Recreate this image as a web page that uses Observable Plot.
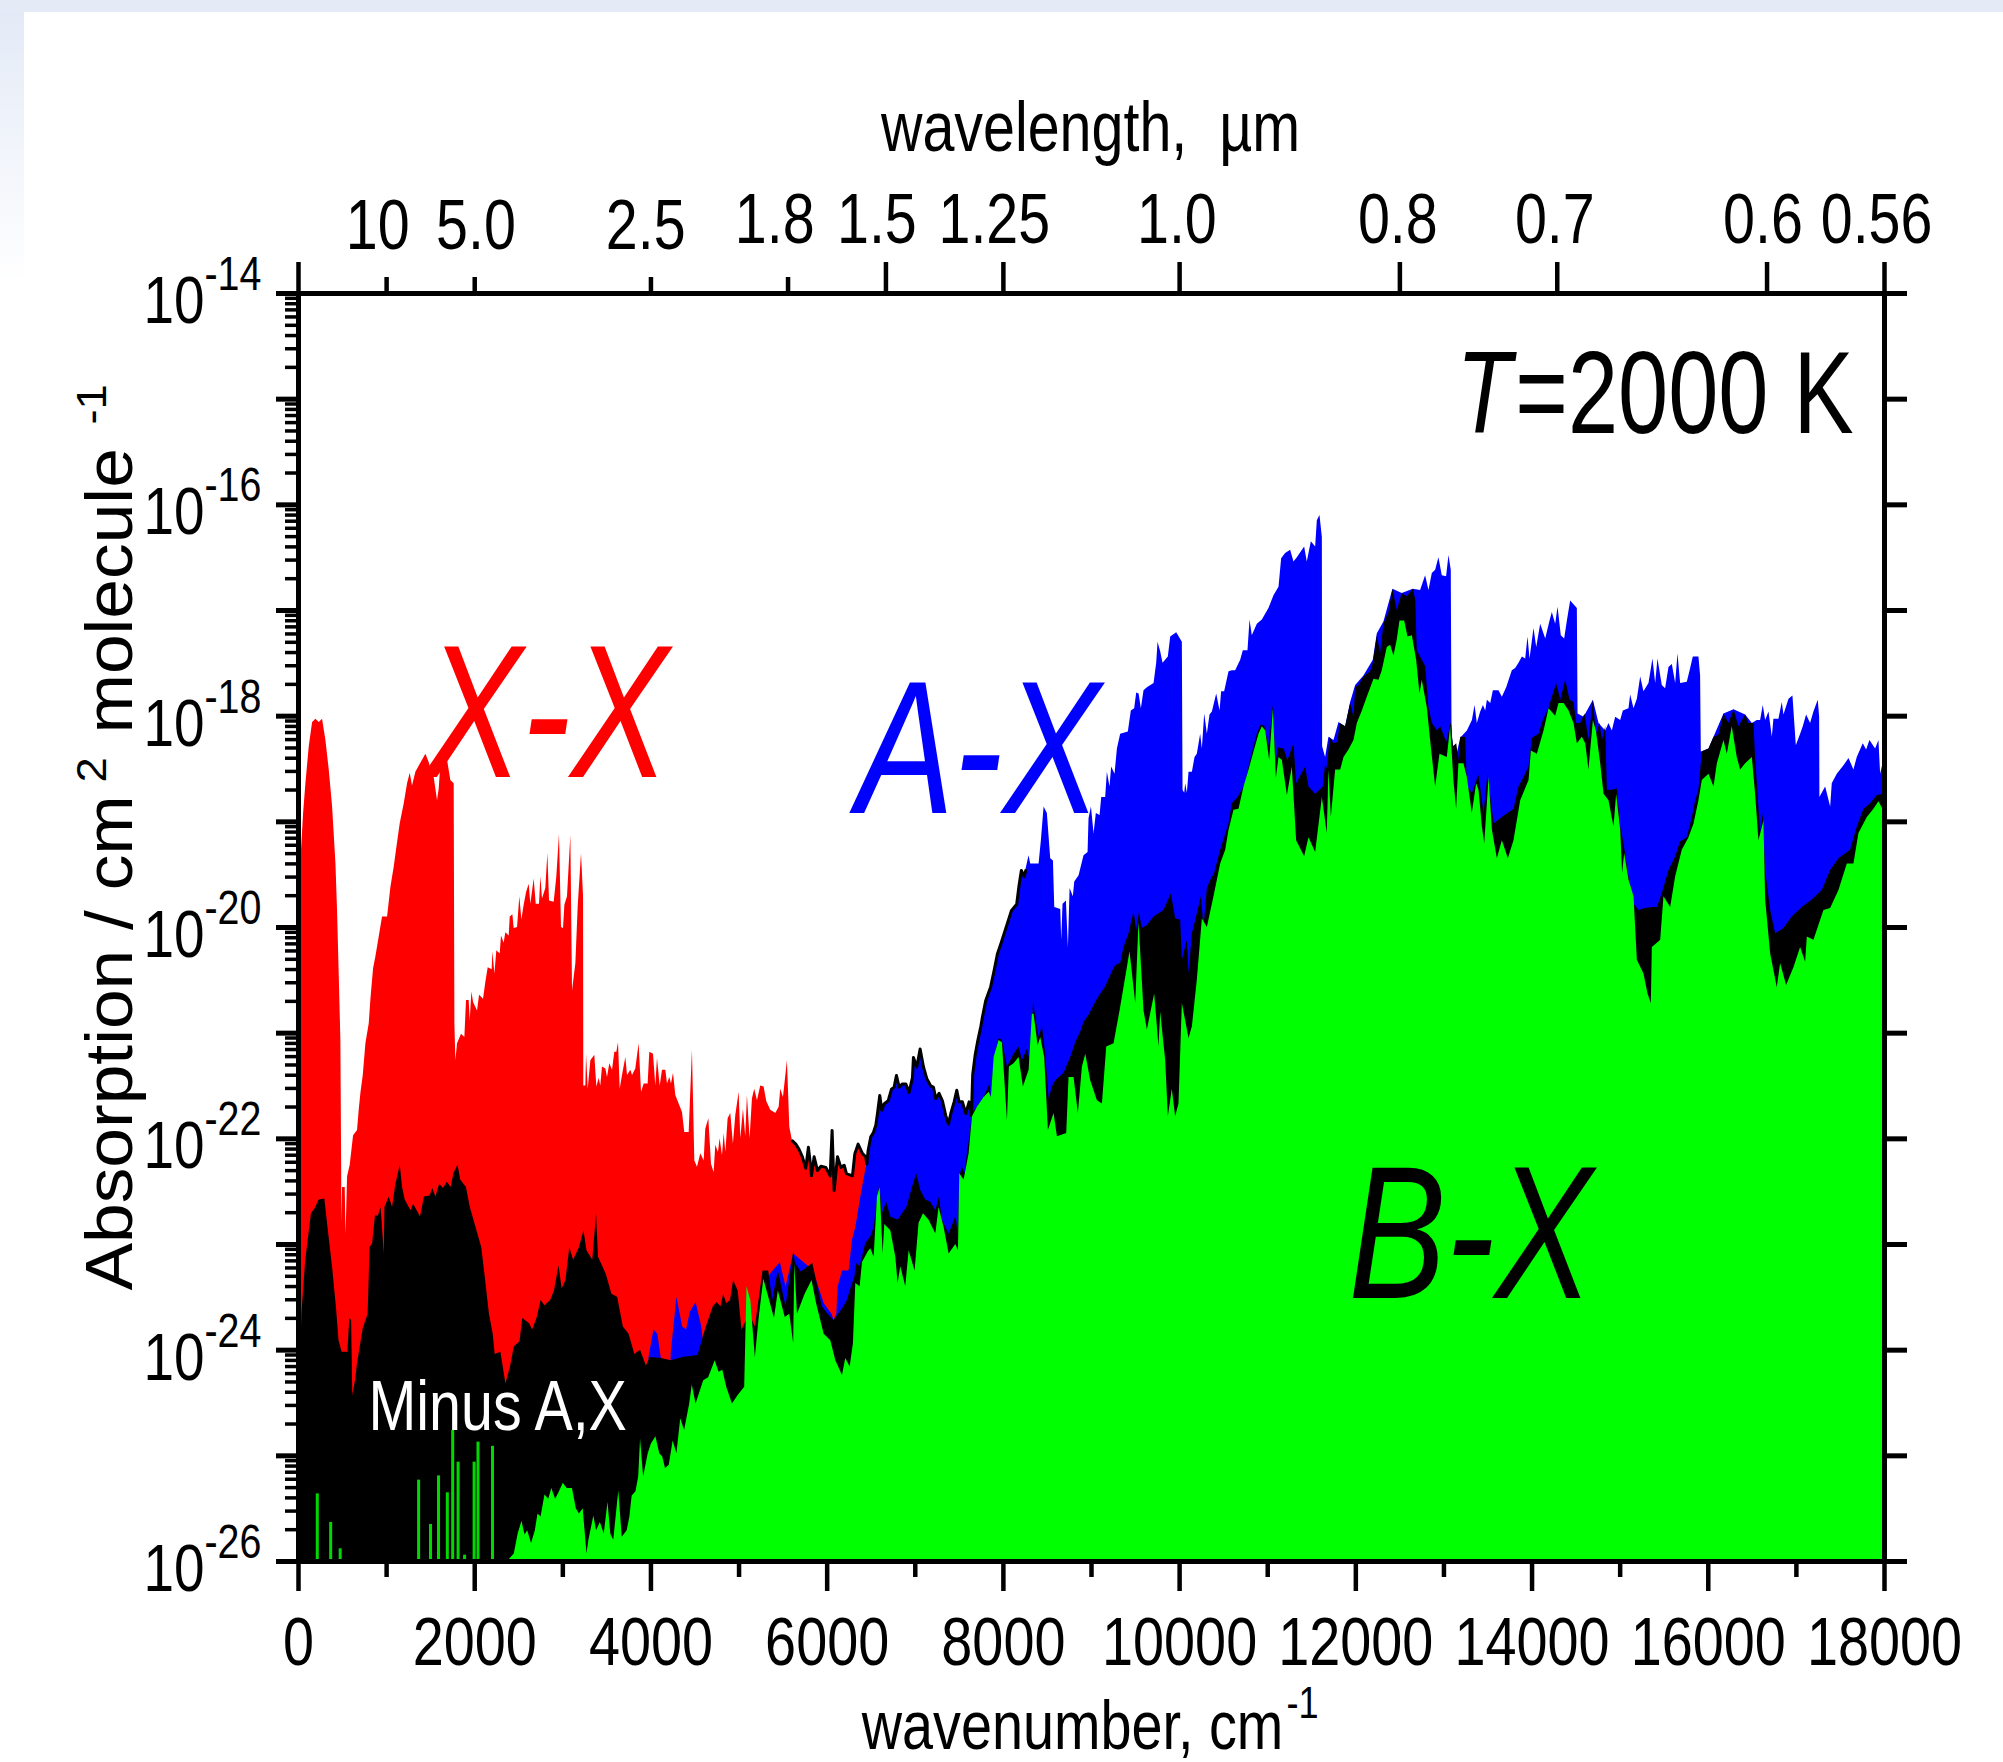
<!DOCTYPE html>
<html>
<head>
<meta charset="utf-8">
<script src="https://cdn.jsdelivr.net/npm/d3@7"></script>
<script src="https://cdn.jsdelivr.net/npm/@observablehq/plot@0.6"></script>
<style>
html,body{margin:0;padding:0;background:#fff;overflow:hidden}
body{width:2003px;height:1762px;
background:
 linear-gradient(#e4ebf6,#e4ebf6) 0 0/100% 12px no-repeat,
 linear-gradient(#e2e9f6,#ffffff) 0 0/24px 285px no-repeat,#fff}
svg{display:block}
</style>
</head>
<body>
<div id="chart"></div>
<script>
// every pair is [wavenumber in cm-1, log10 of absorption]
const redBand = [[0,-26],[20,-19.74],[27,-19.37],[58,-18.92],[84,-18.64],[122,-18.29],[160,-18.06],[198,-18.03],[236,-18.06],[273,-18.03],[311,-18.23],[349,-18.51],[387,-18.86],[425,-19.4],[443,-19.84],[462,-20.44],[481,-21.07],[489,-22.17],[493,-22.79],[500,-22.46],[530,-22.46],[540,-22.9],[557,-22.36],[587,-22.25],[625,-21.97],[670,-21.92],[689,-21.73],[708,-21.57],[735,-21.4],[765,-21.1],[803,-20.91],[822,-20.68],[852,-20.39],[878,-20.28],[916,-20.09],[954,-19.9],[1011,-19.9],[1049,-19.62],[1086,-19.43],[1117,-19.24],[1154,-19.02],[1200,-18.83],[1238,-18.64],[1268,-18.54],[1294,-18.66],[1332,-18.53],[1446,-18.36],[1484,-18.44],[1521,-18.56],[1540,-18.58],[1578,-18.8],[1597,-18.69],[1616,-18.45],[1692,-18.42],[1729,-18.61],[1767,-18.64],[1775,-20.91],[1786,-21.26],[1805,-21.1],[1850,-21.01],[1888,-21.04],[1907,-20.69],[1937,-20.69],[1949,-20.88],[1968,-20.61],[1987,-20.71],[2032,-20.79],[2055,-20.64],[2100,-20.68],[2126,-20.52],[2153,-20.38],[2198,-20.4],[2206,-20.23],[2229,-20.44],[2251,-20.22],[2289,-20.25],[2304,-20.08],[2334,-20.15],[2353,-20.05],[2391,-20.08],[2403,-19.9],[2433,-19.88],[2448,-20.01],[2486,-20],[2512,-19.71],[2535,-19.93],[2561,-19.79],[2588,-19.67],[2618,-19.59],[2637,-19.78],[2675,-19.54],[2698,-19.78],[2735,-19.78],[2751,-19.52],[2769,-19.73],[2807,-19.63],[2830,-19.3],[2849,-19.75],[2902,-19.76],[2932,-19.52],[2962,-19.12],[2985,-20],[3008,-20.01],[3023,-19.79],[3053,-19.71],[3091,-19.13],[3110,-20.6],[3148,-20.34],[3174,-19.81],[3212,-19.3],[3235,-19.71],[3238,-21.5],[3261,-21.5],[3269,-21.2],[3288,-21.53],[3318,-21.26],[3363,-21.21],[3386,-21.51],[3412,-21.43],[3431,-21.5],[3450,-21.32],[3488,-21.34],[3507,-21.42],[3533,-21.29],[3564,-21.35],[3590,-21.18],[3613,-21.18],[3632,-21.09],[3651,-21.53],[3677,-21.4],[3715,-21.23],[3734,-21.4],[3772,-21.35],[3791,-21.4],[3828,-21.34],[3866,-21.1],[3893,-21.56],[3923,-21.48],[3968,-21.48],[3987,-21.18],[4029,-21.2],[4055,-21.5],[4074,-21.24],[4105,-21.5],[4131,-21.35],[4169,-21.35],[4188,-21.48],[4214,-21.42],[4233,-21.48],[4256,-21.38],[4282,-21.59],[4320,-21.67],[4358,-21.75],[4384,-21.94],[4434,-21.94],[4471,-21.16],[4498,-22.21],[4528,-22.27],[4566,-22.14],[4604,-22.21],[4622,-21.91],[4657,-21.81],[4687,-22.24],[4717,-22.32],[4736,-22.06],[4766,-22.13],[4785,-22],[4812,-22.16],[4831,-21.95],[4850,-22.13],[4876,-21.81],[4906,-21.76],[4936,-22.05],[4963,-21.78],[5001,-21.56],[5020,-22],[5050,-21.72],[5076,-21.98],[5095,-21.59],[5125,-22],[5152,-21.62],[5178,-21.53],[5209,-21.64],[5246,-21.5],[5284,-21.51],[5315,-21.65],[5360,-21.73],[5417,-21.76],[5455,-21.7],[5473,-21.53],[5504,-21.61],[5549,-21.26],[5576,-21.89],[5606,-22.02],[5644,-22.05],[5681,-22.1],[5719,-22.17],[5757,-22.28],[5787,-22.08],[5814,-22.27],[5822,-22.35],[5852,-22.17],[5890,-22.3],[5928,-22.26],[5985,-22.27],[6034,-22.35],[6056,-21.92],[6079,-22.49],[6117,-22.17],[6155,-22.27],[6193,-22.25],[6219,-22.33],[6287,-22.35],[6314,-22.14],[6351,-22.05],[6401,-22.14],[6438,-22.17],[6450,-22.33],[6460,-26]];

const blueBand = [[3970,-26],[3978,-24.07],[4034,-23.81],[4078,-23.85],[4121,-24.1],[4143,-24.6],[4215,-24.6],[4230,-24.03],[4295,-23.5],[4360,-23.78],[4404,-23.81],[4447,-23.64],[4512,-23.55],[4577,-23.78],[4599,-23.94],[4620,-24.6],[5200,-24.6],[5294,-23.4],[5359,-23.28],[5468,-23.17],[5533,-23.4],[5620,-23.09],[5793,-23.21],[5880,-23.34],[5967,-23.56],[6054,-23.66],[6079,-23.72],[6109,-23.66],[6125,-23.4],[6174,-23.25],[6249,-23.25],[6287,-22.96],[6325,-22.84],[6382,-22.55],[6450,-22.24],[6465,-22.11],[6495,-21.98],[6525,-21.94],[6552,-21.87],[6571,-21.76],[6597,-21.59],[6620,-21.73],[6646,-21.67],[6692,-21.64],[6730,-21.53],[6760,-21.51],[6786,-21.4],[6817,-21.51],[6854,-21.48],[6892,-21.48],[6930,-21.56],[6968,-21.42],[6979,-21.23],[7017,-21.32],[7055,-21.15],[7093,-21.32],[7131,-21.43],[7176,-21.5],[7206,-21.51],[7233,-21.62],[7270,-21.57],[7308,-21.64],[7346,-21.78],[7376,-21.86],[7403,-21.76],[7441,-21.65],[7471,-21.54],[7497,-21.65],[7535,-21.65],[7573,-21.76],[7611,-21.65],[7637,-21.78],[7652,-21.39],[7679,-21.21],[7705,-21.09],[7743,-20.94],[7762,-20.85],[7800,-20.69],[7856,-20.56],[7894,-20.41],[7932,-20.25],[7977,-20.14],[8038,-19.98],[8091,-19.84],[8151,-19.78],[8178,-19.6],[8204,-19.46],[8235,-19.52],[8254,-19.46],[8291,-19.32],[8310,-19.4],[8405,-19.4],[8431,-19.18],[8462,-18.86],[8499,-18.92],[8537,-19.35],[8568,-19.37],[8583,-19.81],[8651,-19.83],[8662,-20.12],[8677,-19.78],[8715,-19.75],[8738,-20.19],[8757,-19.63],[8794,-19.71],[8810,-19.57],[8859,-19.51],[8915,-19.32],[8961,-19.29],[8972,-18.97],[8999,-18.86],[9029,-19.11],[9055,-18.92],[9097,-18.94],[9116,-18.77],[9161,-18.77],[9180,-18.53],[9210,-18.67],[9229,-18.48],[9267,-18.55],[9294,-18.31],[9331,-18.17],[9418,-18.15],[9452,-17.95],[9490,-17.93],[9513,-17.78],[9540,-17.79],[9566,-17.93],[9596,-17.76],[9634,-17.73],[9710,-17.69],[9740,-17.5],[9755,-17.3],[9785,-17.39],[9812,-17.5],[9872,-17.44],[9899,-17.25],[9967,-17.21],[10031,-17.3],[10039,-18.7],[10058,-18.73],[10069,-18.64],[10088,-18.73],[10107,-18.53],[10145,-18.53],[10175,-18.39],[10201,-18.36],[10239,-18.17],[10258,-18.31],[10285,-17.98],[10315,-18.17],[10345,-17.99],[10372,-17.96],[10421,-17.79],[10459,-17.95],[10477,-17.77],[10511,-17.77],[10561,-17.58],[10598,-17.57],[10636,-17.57],[10693,-17.47],[10723,-17.38],[10776,-17.38],[10799,-17.09],[10825,-17.24],[10882,-17.13],[10939,-17.09],[11014,-16.98],[11071,-16.86],[11128,-16.78],[11158,-16.51],[11203,-16.46],[11260,-16.43],[11298,-16.54],[11336,-16.5],[11419,-16.4],[11449,-16.54],[11495,-16.35],[11544,-16.4],[11563,-16.15],[11593,-16.1],[11620,-16.31],[11623,-18.29],[11657,-18.39],[11695,-18.2],[11752,-18.23],[11809,-18.06],[11884,-18.1],[11941,-17.87],[11998,-17.71],[12092,-17.62],[12198,-17.47],[12244,-17.22],[12319,-17.11],[12421,-16.8],[12527,-16.84],[12652,-16.8],[12735,-16.81],[12792,-16.67],[12830,-16.81],[12868,-16.65],[12906,-16.62],[12943,-16.5],[12981,-16.67],[13030,-16.68],[13057,-16.48],[13083,-16.62],[13091,-18.04],[13096,-18.2],[13134,-18.42],[13190,-18.21],[13266,-18.14],[13323,-18.04],[13353,-17.9],[13379,-18.07],[13417,-17.96],[13448,-17.9],[13474,-17.95],[13493,-17.85],[13531,-17.88],[13561,-17.76],[13625,-17.76],[13663,-17.82],[13712,-17.73],[13776,-17.57],[13814,-17.55],[13852,-17.5],[13890,-17.44],[13928,-17.46],[13954,-17.25],[13977,-17.46],[14022,-17.17],[14053,-17.35],[14098,-17.13],[14155,-17.27],[14204,-17.1],[14230,-17.02],[14268,-17.13],[14295,-16.97],[14332,-17.24],[14370,-17.27],[14401,-17.1],[14438,-16.91],[14514,-16.98],[14522,-17.98],[14590,-18.01],[14696,-17.85],[14760,-18.07],[14836,-18.14],[14873,-18.07],[14911,-18.14],[14949,-18.01],[15006,-18.04],[15036,-17.95],[15100,-17.93],[15119,-17.8],[15157,-17.93],[15195,-17.84],[15233,-17.63],[15270,-17.77],[15327,-17.69],[15372,-17.46],[15403,-17.69],[15429,-17.46],[15478,-17.71],[15516,-17.74],[15554,-17.54],[15592,-17.51],[15630,-17.69],[15656,-17.41],[15686,-17.69],[15762,-17.68],[15800,-17.55],[15830,-17.44],[15894,-17.44],[15913,-17.62],[15921,-18.34],[16008,-18.31],[16178,-17.98],[16292,-17.94],[16424,-17.99],[16500,-18.07],[16556,-18.04],[16594,-18.04],[16624,-17.9],[16651,-18.04],[16689,-17.96],[16727,-18.2],[16745,-18.03],[16802,-18.03],[16840,-17.87],[16859,-17.99],[16916,-17.84],[16961,-17.81],[16999,-18.28],[17048,-18.17],[17078,-18.1],[17116,-17.99],[17161,-18.07],[17199,-17.96],[17248,-17.85],[17264,-18.01],[17267,-18.77],[17332,-18.67],[17389,-18.86],[17407,-18.64],[17464,-18.55],[17540,-18.47],[17597,-18.4],[17653,-18.51],[17691,-18.39],[17759,-18.26],[17797,-18.32],[17835,-18.23],[17899,-18.31],[17937,-18.23],[17956,-18.55],[18000,-18.39]];

const blackBand = [[0,-26],[8,-24.5],[39,-23.66],[82,-23.15],[147,-22.71],[191,-22.66],[234,-22.58],[299,-22.57],[343,-22.9],[386,-23.21],[430,-23.59],[460,-23.91],[495,-24.02],[560,-24.02],[582,-23.7],[603,-23.72],[616,-24.43],[647,-24.29],[669,-24.13],[734,-23.8],[790,-23.66],[812,-23.03],[842,-22.99],[873,-22.73],[907,-22.73],[938,-22.65],[973,-23.09],[981,-22.65],[1029,-22.55],[1068,-22.65],[1103,-22.44],[1155,-22.25],[1181,-22.46],[1211,-22.58],[1277,-22.68],[1307,-22.62],[1385,-22.74],[1429,-22.55],[1494,-22.54],[1524,-22.47],[1559,-22.55],[1602,-22.43],[1646,-22.47],[1689,-22.41],[1733,-22.46],[1763,-22.33],[1811,-22.25],[1841,-22.39],[1906,-22.46],[1950,-22.65],[2015,-22.84],[2080,-23.03],[2124,-23.34],[2167,-23.66],[2210,-23.85],[2232,-24.04],[2297,-24.02],[2354,-24.32],[2406,-24.16],[2449,-23.97],[2514,-23.92],[2545,-23.7],[2623,-23.75],[2658,-23.81],[2710,-23.69],[2753,-23.53],[2797,-23.58],[2862,-23.53],[2905,-23.44],[2957,-23.2],[2992,-23.42],[3035,-23.34],[3079,-23.03],[3122,-23.15],[3188,-23.03],[3240,-22.87],[3274,-23.06],[3340,-23.15],[3383,-22.71],[3405,-23.12],[3492,-23.28],[3557,-23.47],[3622,-23.5],[3687,-23.78],[3752,-23.85],[3817,-24.04],[3882,-24],[3948,-24.15],[3991,-24.07],[4121,-24.08],[4230,-24.1],[4360,-24.07],[4534,-24.05],[4621,-23.8],[4708,-23.59],[4751,-23.55],[4795,-23.59],[4825,-23.47],[4860,-23.56],[4903,-23.53],[4938,-23.34],[4990,-23.44],[5033,-23.81],[5120,-23.66],[5185,-23.78],[5272,-23.25],[5337,-23.25],[5381,-23.53],[5446,-23.25],[5533,-23.59],[5620,-23.07],[5641,-23.18],[5706,-23.26],[5837,-23.18],[5880,-23.34],[5945,-23.59],[6010,-23.66],[6076,-23.72],[6174,-23.61],[6230,-23.53],[6276,-23.4],[6314,-23.31],[6336,-23.18],[6374,-23.21],[6401,-23.12],[6438,-22.99],[6495,-22.93],[6533,-22.84],[6597,-22.43],[6627,-22.71],[6677,-22.6],[6722,-22.74],[6805,-22.77],[6904,-22.65],[6979,-22.43],[7017,-22.33],[7062,-22.49],[7119,-22.58],[7176,-22.6],[7233,-22.68],[7274,-22.55],[7308,-22.77],[7384,-22.9],[7460,-22.74],[7490,-22.9],[7505,-22.36],[7535,-22.27],[7565,-22.33],[7592,-22.14],[7630,-21.92],[7649,-21.76],[7705,-21.7],[7781,-21.61],[7849,-21.48],[7864,-21.67],[7895,-21.26],[7951,-21.05],[7989,-21.07],[8046,-21.32],[8121,-21.2],[8178,-21.13],[8216,-21.26],[8273,-21.15],[8318,-21.32],[8341,-20.71],[8405,-21.04],[8443,-20.94],[8481,-21.21],[8519,-21.62],[8556,-21.51],[8594,-21.45],[8689,-21.38],[8764,-21.23],[8821,-21.09],[8878,-20.99],[8915,-20.9],[8972,-20.83],[9067,-20.68],[9161,-20.56],[9199,-20.49],[9237,-20.42],[9275,-20.36],[9331,-20.34],[9369,-20.19],[9426,-20.06],[9483,-19.85],[9513,-20.03],[9543,-19.86],[9577,-20.01],[9634,-19.98],[9710,-19.9],[9823,-19.84],[9906,-19.68],[9955,-19.92],[10012,-19.93],[10031,-20.31],[10088,-20.12],[10107,-20.44],[10145,-20.06],[10201,-19.87],[10247,-19.71],[10277,-20],[10315,-19.63],[10372,-19.52],[10390,-19.51],[10466,-19.27],[10561,-19.02],[10598,-18.83],[10655,-18.78],[10712,-18.7],[10750,-18.63],[10788,-18.48],[10825,-18.36],[10882,-18.17],[10920,-18.09],[10965,-18.09],[11014,-18.29],[11064,-17.9],[11094,-18.48],[11117,-18.3],[11185,-18.31],[11230,-18.42],[11298,-18.26],[11328,-18.64],[11430,-18.48],[11468,-18.67],[11544,-18.74],[11631,-18.67],[11657,-18.45],[11676,-18.5],[11707,-18.2],[11752,-18.26],[11797,-18.25],[11820,-18.07],[11884,-18.1],[11941,-17.88],[11979,-18.01],[11998,-17.73],[12036,-17.71],[12092,-17.63],[12168,-17.58],[12198,-17.5],[12244,-17.24],[12281,-17.41],[12319,-17.13],[12376,-17.02],[12421,-16.8],[12470,-17],[12527,-16.84],[12584,-16.87],[12652,-16.8],[12680,-16.9],[12697,-17.38],[12792,-17.53],[12830,-17.92],[12868,-18.07],[12926,-18.14],[12963,-18.1],[13032,-18.25],[13084,-18.06],[13107,-18.29],[13145,-18.26],[13171,-18.42],[13190,-18.2],[13247,-18.2],[13266,-18.67],[13323,-18.73],[13398,-18.56],[13455,-18.92],[13500,-18.55],[13569,-19.02],[13663,-18.96],[13727,-18.92],[13795,-18.88],[13852,-18.67],[13909,-18.58],[13966,-18.48],[14004,-18.21],[14079,-18.17],[14128,-18.04],[14193,-17.93],[14219,-17.85],[14280,-17.69],[14325,-17.85],[14382,-17.66],[14431,-17.85],[14476,-17.87],[14507,-18.07],[14552,-18.07],[14601,-17.98],[14646,-18.23],[14696,-17.85],[14730,-18.17],[14771,-18.07],[14798,-18.23],[14836,-18.1],[14855,-18.7],[14911,-18.7],[14968,-18.69],[15006,-19.05],[15044,-19.21],[15100,-19.52],[15157,-19.78],[15214,-19.84],[15289,-19.82],[15365,-19.81],[15422,-19.81],[15478,-19.68],[15554,-19.46],[15630,-19.33],[15686,-19.19],[15762,-19.15],[15819,-18.96],[15857,-18.8],[15894,-18.7],[15932,-18.34],[16008,-18.31],[16065,-18.2],[16121,-18.18],[16178,-17.98],[16235,-18.07],[16292,-17.94],[16348,-18.1],[16424,-17.99],[16462,-18.07],[16518,-18.07],[16537,-18.39],[16594,-19.11],[16624,-18.92],[16651,-19.46],[16708,-19.84],[16764,-20.06],[16859,-20.01],[16953,-19.9],[17067,-19.81],[17180,-19.74],[17294,-19.65],[17389,-19.46],[17483,-19.35],[17615,-19.27],[17691,-19.05],[17767,-18.88],[17842,-18.83],[17918,-18.75],[18000,-18.74]];

const greenBand = [[2385,-26],[2393,-25.98],[2449,-25.93],[2493,-25.74],[2536,-25.62],[2571,-25.75],[2601,-25.71],[2645,-25.83],[2688,-25.71],[2718,-25.55],[2753,-25.58],[2797,-25.37],[2840,-25.41],[2875,-25.31],[2918,-25.41],[2962,-25.34],[3005,-25.26],[3049,-25.31],[3109,-25.31],[3153,-25.5],[3188,-25.55],[3231,-25.5],[3274,-25.93],[3296,-25.8],[3352,-25.57],[3383,-25.71],[3426,-25.63],[3470,-25.74],[3513,-25.44],[3544,-25.74],[3578,-25.8],[3635,-25.33],[3674,-25.77],[3730,-25.71],[3761,-25.58],[3787,-25.38],[3830,-25.34],[3861,-25.2],[3882,-24.84],[3917,-25.2],[3969,-24.98],[4004,-24.89],[4056,-24.82],[4100,-24.98],[4134,-25.01],[4165,-25.12],[4208,-25.09],[4252,-24.86],[4295,-24.98],[4338,-24.65],[4382,-24.76],[4438,-24.52],[4469,-24.33],[4512,-24.51],[4599,-24.29],[4655,-24.26],[4729,-24.1],[4773,-24.21],[4816,-24.19],[4860,-24.35],[4925,-24.51],[4990,-24.43],[5064,-24.35],[5090,-23.4],[5133,-23.53],[5185,-24.07],[5229,-23.69],[5281,-23.33],[5337,-23.5],[5402,-23.7],[5446,-23.44],[5524,-23.69],[5576,-23.66],[5620,-23.94],[5633,-23.18],[5663,-23.66],[5750,-23.47],[5828,-23.34],[5880,-23.56],[5966,-23.85],[6041,-23.91],[6098,-24.1],[6174,-24.24],[6211,-24.08],[6261,-24.16],[6298,-23.94],[6325,-23.37],[6374,-23.4],[6401,-23.17],[6465,-23.07],[6495,-23.04],[6533,-23.12],[6571,-22.55],[6601,-22.46],[6635,-23.09],[6654,-22.81],[6722,-22.87],[6779,-23.12],[6805,-23.37],[6835,-23.21],[6892,-23.4],[6930,-23.06],[6998,-23.25],[7043,-22.8],[7093,-22.71],[7157,-22.77],[7233,-22.9],[7270,-22.65],[7327,-22.84],[7384,-23.09],[7460,-23],[7490,-23.06],[7505,-22.33],[7554,-22.39],[7611,-22.14],[7649,-21.79],[7705,-21.7],[7781,-21.61],[7838,-21.56],[7864,-21.61],[7895,-21.23],[7951,-21.07],[7989,-21.09],[8046,-21.83],[8068,-21.32],[8121,-21.29],[8178,-21.23],[8227,-21.51],[8292,-21.35],[8329,-20.82],[8348,-20.82],[8394,-21.12],[8424,-21.04],[8469,-21.23],[8511,-21.92],[8575,-21.76],[8613,-21.98],[8719,-21.95],[8745,-21.42],[8802,-21.42],[8851,-21.76],[8897,-21.32],[8935,-21.2],[8991,-21.45],[9067,-21.64],[9124,-21.67],[9173,-21.13],[9256,-21.1],[9324,-20.79],[9407,-20.38],[9437,-20.23],[9502,-20.72],[9539,-19.95],[9596,-20.79],[9634,-20.97],[9717,-20.63],[9766,-21.13],[9785,-20.8],[9842,-21.26],[9872,-21.79],[9917,-21.53],[9955,-21.79],[9993,-21.67],[10031,-20.72],[10107,-21.05],[10145,-20.94],[10201,-20.5],[10258,-19.92],[10315,-20],[10390,-19.71],[10466,-19.4],[10523,-19.27],[10561,-19.08],[10617,-18.89],[10674,-18.88],[10731,-18.67],[10788,-18.51],[10844,-18.34],[10901,-18.17],[10939,-18.1],[10977,-18.14],[11022,-18.42],[11064,-17.93],[11098,-18.59],[11128,-18.39],[11166,-18.42],[11223,-18.75],[11279,-18.48],[11328,-19.18],[11419,-19.33],[11468,-19.15],[11544,-19.29],[11620,-18.77],[11676,-19.11],[11695,-18.51],[11722,-18.96],[11771,-18.51],[11828,-18.51],[11866,-18.39],[11922,-18.32],[11979,-18.23],[12017,-18.07],[12074,-17.95],[12130,-17.82],[12206,-17.65],[12263,-17.66],[12300,-17.57],[12357,-17.35],[12395,-17.33],[12433,-17.43],[12470,-17.28],[12501,-17.1],[12554,-17.1],[12592,-17.25],[12641,-17.24],[12690,-17.47],[12728,-17.79],[12754,-17.66],[12811,-17.92],[12856,-18.29],[12906,-18.67],[12955,-18.36],[13038,-18.39],[13076,-18.1],[13113,-18.61],[13144,-18.88],[13170,-18.45],[13227,-18.45],[13265,-18.58],[13322,-18.92],[13371,-18.64],[13398,-18.7],[13436,-19.05],[13463,-19.21],[13512,-18.58],[13550,-19.08],[13606,-19.35],[13663,-19.18],[13731,-19.35],[13795,-19.18],[13871,-18.8],[13966,-18.61],[13992,-18.33],[14060,-18.36],[14136,-18.14],[14193,-17.93],[14268,-18],[14306,-17.88],[14363,-17.88],[14420,-17.95],[14476,-18.07],[14514,-18.26],[14571,-18.2],[14609,-18.26],[14646,-18.51],[14696,-18.04],[14730,-18.14],[14779,-18.45],[14817,-18.74],[14873,-18.8],[14930,-19.05],[14960,-18.74],[15006,-19.08],[15028,-19.49],[15051,-19.3],[15100,-19.55],[15157,-19.71],[15195,-20.31],[15270,-20.44],[15316,-20.63],[15354,-20.72],[15365,-20.19],[15422,-20.15],[15460,-20.12],[15497,-19.71],[15573,-19.81],[15630,-19.52],[15705,-19.27],[15781,-19.15],[15838,-19.02],[15894,-18.8],[15932,-18.61],[16008,-18.55],[16065,-18.67],[16103,-18.45],[16178,-18.23],[16216,-18.36],[16272,-18.1],[16329,-18.39],[16367,-18.51],[16424,-18.45],[16500,-18.39],[16537,-18.74],[16575,-19.18],[16632,-18.99],[16651,-19.74],[16708,-20.25],[16783,-20.57],[16821,-20.34],[16889,-20.55],[16972,-20.38],[17048,-20.19],[17105,-20.33],[17124,-20.09],[17199,-20.12],[17313,-19.84],[17389,-19.82],[17483,-19.65],[17578,-19.4],[17653,-19.4],[17710,-19.11],[17805,-18.96],[17880,-18.88],[17937,-18.81],[18000,-18.91]];

const greenSpikes = [[213,-25.36],[365,-25.63],[473,-25.88],[1363,-25.23],[1498,-25.65],[1589,-25.19],[1689,-25.35],[1750,-24.76],[1811,-25.06],[1885,-25.94],[1993,-25.06],[2037,-24.87],[2202,-24.91]];

const floorValue = 1e-26;
const ceilValue = 1e-14;
const wnMajor = [0,2000,4000,6000,8000,10000,12000,14000,16000,18000];
const wnMinor = [1000,3000,5000,7000,9000,11000,13000,15000,17000];
const topLong = [0,6667,8000,10000,12500,14286,16667,18000];
const topShort = [1000,2000,4000,5556];
const topLabelsLow = [["10",898],["5.0",2014],["2.5",3941]];
const topLabelsHigh = [["1.8",5405],["1.5",6564],["1.25",7897],["1.0",9969],["0.8",12476],["0.7",14258],["0.6",16620],["0.56",17910]];
const decadeExp = d3.range(-26,-13);
const labelledExp = [-14,-16,-18,-20,-22,-24,-26];
const decades = decadeExp.map(e => +("1e"+e));
const minors = d3.range(-26,-14).flatMap(e => [2,3,4,5,6,7,8,9].map(m => +(m+"e"+e)));

const narrow = "'Liberation Sans Narrow','Liberation Sans',sans-serif";
const regular = "'Liberation Sans',Arial,sans-serif";

const row = ([wn,l]) => ({wn, v: 10**l});
const band = (rows, fill) => Plot.areaY(rows.map(row), {x:"wn", y1:() => floorValue, y2:"v", fill, curve:"linear"});

const outlineRows = redBand.filter(d => d[0] >= 5580 && d[0] <= 6440)
  .concat(blueBand.filter(d => d[0] >= 6450 && d[0] <= 8260)).map(row);

// free text placed relative to the top-left corner of the frame
const L = 298, T = 293;
const note = (s, cx, cy, o = {}) => Plot.text([s], {
  frameAnchor:"top-left", dx:cx-L, dy:cy-T, text:d=>d, lineAnchor:"middle",
  fontFamily:narrow, fontSize:67, fill:"black", textAnchor:"middle", ...o});
const vnote = (s, cx, cy, size) => Plot.text([s], {
  frameAnchor:"top-left", dx:cx-L, dy:cy-T, text:d=>d, rotate:-90, textAnchor:"start",
  lineAnchor:"middle", fontFamily:regular, fontSize:size, className:"wide-title"});

const chart = Plot.plot({
  width:2003, height:1762,
  marginLeft:298, marginRight:119, marginTop:293, marginBottom:201,
  style:{background:"transparent", overflow:"visible"},
  x:{domain:[0,18000], axis:null},
  y:{type:"log", domain:[floorValue,ceilValue], axis:null},
  marks:[
    band(redBand,"#ff0000"),
    band(blueBand,"#0000ff"),
    Plot.line(outlineRows,{x:"wn",y:"v",stroke:"black",strokeWidth:3}),
    band(blackBand,"#000000"),
    band(greenBand,"#00ff00"),
    Plot.ruleX(greenSpikes.map(row),{x:"wn",y1:()=>floorValue,y2:"v",stroke:"#00d800",strokeWidth:3}),
    Plot.frame({stroke:"black",strokeWidth:5}),

    Plot.axisX(wnMajor,{anchor:"bottom",label:null,tickSize:30,strokeWidth:4.5,tickPadding:25,
      tickFormat:d=>String(d),fontSize:68,fontFamily:narrow}),
    Plot.axisX(wnMinor,{anchor:"bottom",label:null,tickSize:16,strokeWidth:4.5,tickFormat:()=>""}),
    Plot.axisX(topLong,{anchor:"top",label:null,tickSize:32,strokeWidth:4.5,tickFormat:()=>""}),
    Plot.axisX(topShort,{anchor:"top",label:null,tickSize:17,strokeWidth:4.5,tickFormat:()=>""}),
    Plot.axisY(decades,{anchor:"left",label:null,tickSize:22,strokeWidth:5,tickFormat:()=>""}),
    Plot.axisY(minors,{anchor:"left",label:null,tickSize:13,strokeWidth:3.5,tickFormat:()=>""}),
    Plot.axisY(decades,{anchor:"right",label:null,tickSize:22,strokeWidth:5,tickFormat:()=>""}),

    Plot.text(labelledExp,{y:e=>+("1e"+e),frameAnchor:"left",dx:-94,dy:8,text:()=>"10",
      textAnchor:"end",lineAnchor:"middle",fontFamily:narrow,fontSize:67}),
    Plot.text(labelledExp,{y:e=>+("1e"+e),frameAnchor:"left",dx:-94,dy:-19,text:e=>String(e),
      textAnchor:"start",lineAnchor:"middle",fontFamily:narrow,fontSize:48}),

    Plot.text(topLabelsLow,{x:d=>d[1],frameAnchor:"top",dy:-67,text:d=>d[0],lineAnchor:"middle",fontFamily:narrow,fontSize:70}),
    Plot.text(topLabelsHigh,{x:d=>d[1],frameAnchor:"top",dy:-73,text:d=>d[0],lineAnchor:"middle",fontFamily:narrow,fontSize:70}),

    note("wavelength,\u00a0\u00a0\u00b5m",1090,128,{fontSize:70}),
    note("wavenumber, cm",1072,1727,{fontSize:68}),
    note("-1",1286,1703,{fontSize:44,textAnchor:"start"}),

    // rotated y title
    vnote("Absorption / cm",110,1290,66),
    vnote("2",92,782,42),
    vnote("molecule",110,733,66),
    vnote("-1",92,424,42),

    note("T",1511,395,{fontSize:117,fontStyle:"italic",textAnchor:"end",className:"tall"}),
    note("=2000 K",1853,395,{fontSize:117,textAnchor:"end",className:"tall"}),

    note("X-X",424,716,{fontSize:190,fontStyle:"italic",fill:"#ff0000",textAnchor:"start",className:"tall"}),
    note("A-X",856,752,{fontSize:190,fontStyle:"italic",fill:"#0000ff",textAnchor:"start",className:"tall"}),
    note("B-X",1348,1237,{fontSize:190,fontStyle:"italic",fill:"black",textAnchor:"start",className:"tall"}),
    note("Minus A,X",368,1407,{fontSize:70,fill:"white",textAnchor:"start"})
  ]
});
document.getElementById("chart").appendChild(chart);

// Arial-Narrow look: no narrow face is installed, so condense the real text by its own measured length
const fit = (node, ratio) => {
  const w = node.getComputedTextLength();
  if (w > 0) { node.setAttribute("textLength", (w*ratio).toFixed(1)); node.setAttribute("lengthAdjust","spacingAndGlyphs"); }
};
chart.querySelectorAll("text").forEach(t => {
  const g = t.closest("[font-family]");
  const fam = g ? g.getAttribute("font-family") : "";
  if (t.closest(".tall")) fit(t, 0.77);
  else if (fam.includes("Narrow")) fit(t, 0.82);
  else if (t.closest(".wide-title")) fit(t, 1.08);
});
</script>
</body>
</html>
